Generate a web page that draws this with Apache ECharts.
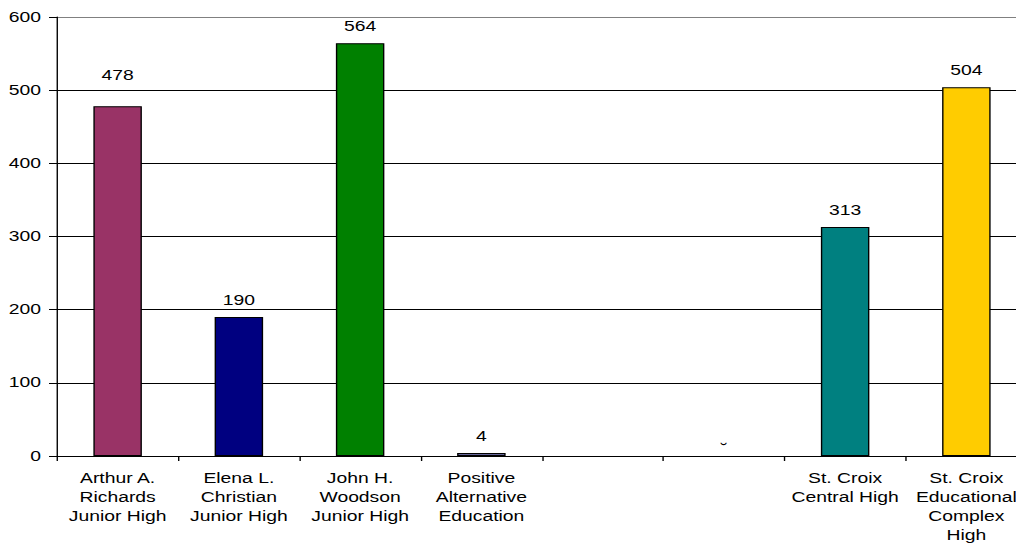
<!DOCTYPE html>
<html>
<head>
<meta charset="utf-8">
<script src="https://cdn.jsdelivr.net/npm/echarts@6/dist/echarts.min.js"></script>
<style>
  html, body { margin: 0; padding: 0; overflow: hidden; background: #fff; }
  /* the reference is stretched sideways, so the chart is drawn narrow and scaled */
  #main { width: 760px; height: 546px; transform: scaleX(1.38); transform-origin: 0 0; }
</style>
</head>
<body>
<div id="main"></div>
<script>
var SX = 1.38;

var categories = [
  'Arthur A.\nRichards\nJunior High',
  'Elena L.\nChristian\nJunior High',
  'John H.\nWoodson\nJunior High',
  'Positive\nAlternative\nEducation',
  '',
  '',
  'St. Croix\nCentral High',
  'St. Croix\nEducational\nComplex\nHigh'
];
var values = [478, 190, 564, 4, null, 0, 313, 504];
var barColors = ['#993366', '#000080', '#008000', '#666699', '#999999', '#999999', '#008080', '#FFCC00'];
var yMin = 0, yMax = 600, yStep = 100;

var font = 'Liberation Sans, Arial, sans-serif';

// 数据项
var seriesData = values.map(function (v, i) {
  var item = {
    value: v,
    itemStyle: { color: barColors[i] }
  };
  if (i === 0) {
    item.label = { distance: 24 };
  }
  if (v === 0) {
    item.itemStyle.borderWidth = 0;
    item.label = { formatter: '\u02D8', distance: 0 };
  }
  return item;
});

var chart = echarts.init(document.getElementById('main'), null, { renderer: 'svg' });
chart.setOption({
  backgroundColor: '#ffffff',
  animation: false,
  grid: {
    left: 57 / SX,
    top: 17,
    width: 970 / SX,
    height: 439,
    containLabel: false
  },
  xAxis: {
    type: 'category',
    data: categories,
    axisLine: { lineStyle: { color: '#000', width: 1 } },
    axisTick: { show: true, length: 5, lineStyle: { color: '#000' } },
    axisLabel: {
      interval: 0,
      margin: 13,
      color: '#000',
      fontFamily: font,
      fontSize: 14,
      lineHeight: 19
    }
  },
  yAxis: {
    type: 'value',
    min: yMin,
    max: yMax,
    interval: yStep,
    axisLine: { show: true, lineStyle: { color: '#000', width: 1 } },
    axisTick: { show: true, length: 8 / SX, lineStyle: { color: '#000' } },
    axisLabel: {
      margin: 16 / SX,
      color: '#000',
      fontFamily: font,
      fontSize: 14
    },
    splitLine: {
      show: true,
      lineStyle: {
        color: ['#000', '#000', '#000', '#000', '#000', '#000', '#808080'],
        width: 1
      }
    }
  },
  series: [{
    type: 'bar',
    data: seriesData,
    barWidth: '40%',
    itemStyle: { borderColor: '#000', borderWidth: 1 },
    label: {
      show: true,
      position: 'top',
      distance: 10,
      color: '#000',
      fontFamily: font,
      fontSize: 14
    }
  }]
});
</script>
</body>
</html>
